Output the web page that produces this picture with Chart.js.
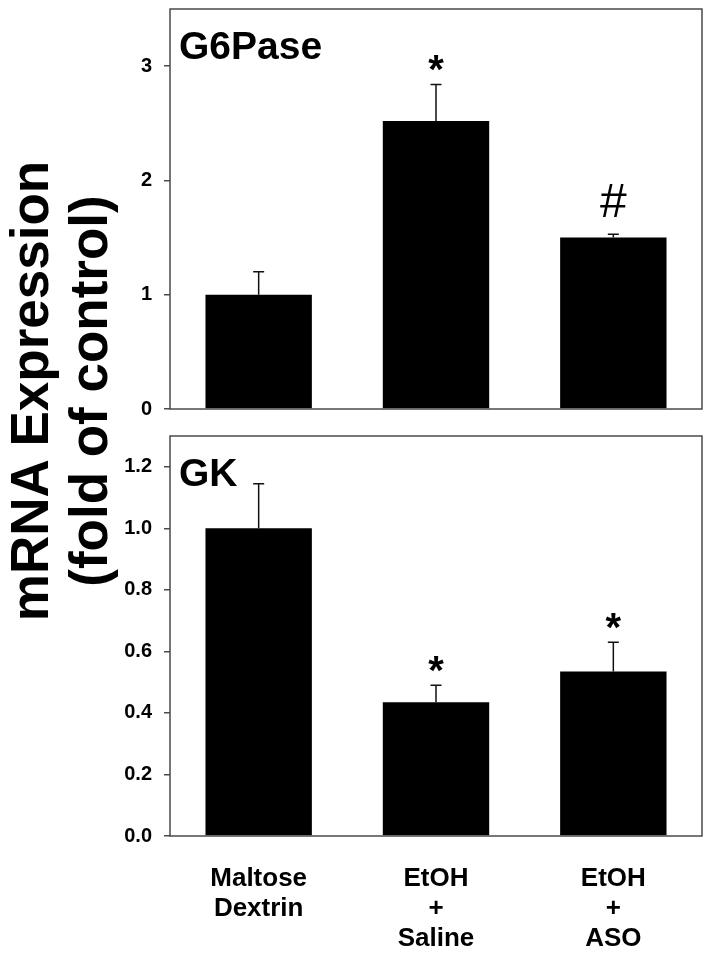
<!DOCTYPE html>
<html>
<head>
<meta charset="utf-8">
<script src="https://cdn.jsdelivr.net/npm/chart.js@4.4.0/dist/chart.umd.min.js"></script>
<style>
  body { margin: 0; background: #fff; }
  #wrap { position: relative; width: 714px; height: 954px; overflow: hidden; }
  #wrap canvas { position: absolute; left: 0; }
  #ytitle {
    position: absolute; width: 520px; height: 118px; left: -201px; top: 332px;
    transform: rotate(-90deg); transform-origin: center;
    font: bold 53px "Liberation Sans", Arial, sans-serif; line-height: 59px;
    text-align: center; white-space: nowrap; color: #000;
  }
</style>
</head>
<body>
<div id="wrap">
  <!-- y tick padding forces a 24px top margin in chart.js, so canvases are shifted up -->
  <canvas id="chart-g6pase" width="714" height="448" style="top:-15px"></canvas>
  <canvas id="chart-gk" width="714" height="542" style="top:412px"></canvas>
  <div id="ytitle">mRNA Expression<br>(fold of control)</div>
</div>
<script>
const FONT = '"Liberation Sans", Arial, sans-serif';

// groups on the x axis (multi-line labels)
const groups = [['Maltose', 'Dextrin'], ['EtOH', '+', 'Saline'], ['EtOH', '+', 'ASO']];

// G6Pase panel
const g6paseMean = [1.0, 2.52, 1.50];
const g6paseSem = [0.20, 0.32, 0.03];
const g6paseMarks = ['', '*', '#'];
const g6paseTicks = [0, 1, 2, 3];

// GK panel
const gkMean = [1.0, 0.435, 0.535];
const gkSem = [0.145, 0.055, 0.095];
const gkMarks = ['', '*', '*'];
const gkTicks = [0, 0.2, 0.4, 0.6, 0.8, 1.0, 1.2];

const markStyle = {
  '*': { font: 'bold 40px ' + FONT, dy: -1 },
  '#': { font: '48px ' + FONT, dy: -17 }
};

// error whiskers, significance marks, frame and panel name
const panelPlugin = {
  id: 'panel',
  afterDatasetsDraw(chart, args, opts) {
    const { ctx, chartArea: a } = chart;
    const y = chart.scales.y;
    const meta = chart.getDatasetMeta(0);
    ctx.save();
    ctx.strokeStyle = '#111';
    ctx.lineWidth = 1.5;
    meta.data.forEach((bar, i) => {
      const top = y.getPixelForValue(opts.mean[i] + opts.sem[i]);
      ctx.beginPath();
      ctx.moveTo(bar.x, bar.y);
      ctx.lineTo(bar.x, top);
      ctx.moveTo(bar.x - 5.5, top);
      ctx.lineTo(bar.x + 5.5, top);
      ctx.stroke();
      const m = opts.marks[i];
      if (m) {
        const st = markStyle[m];
        ctx.fillStyle = '#000';
        ctx.font = st.font;
        ctx.textAlign = 'center';
        ctx.textBaseline = 'alphabetic';
        ctx.fillText(m, bar.x, top + st.dy);
      }
    });

    ctx.strokeStyle = '#4a4a4a';
    ctx.lineWidth = 1.5;
    ctx.strokeRect(a.left, a.top, a.right - a.left, a.bottom - a.top);

    ctx.fillStyle = '#000';
    ctx.font = 'bold 39px ' + FONT;
    ctx.textAlign = 'left';
    ctx.textBaseline = 'alphabetic';
    ctx.fillText(opts.name, a.left + 9, a.top + 50);
    ctx.restore();
  }
};

function makePanel(id, name, mean, sem, marks, ticks, max, decimals, showX, padding) {
  return new Chart(document.getElementById(id), {
    type: 'bar',
    data: {
      labels: groups,
      datasets: [{
        data: mean,
        backgroundColor: '#000',
        barPercentage: 0.6,
        categoryPercentage: 1
      }]
    },
    plugins: [panelPlugin],
    options: {
      responsive: false,
      animation: false,
      devicePixelRatio: 1,
      layout: { padding },
      plugins: {
        legend: { display: false },
        tooltip: { enabled: false },
        panel: { name, mean, sem, marks }
      },
      scales: {
        x: {
          display: showX,
          grid: { display: false },
          border: { display: false },
          ticks: {
            color: '#000',
            font: { family: FONT, size: 26, weight: 'bold', lineHeight: '30px' },
            padding: 20,
            maxRotation: 0,
            autoSkip: false
          },
          afterFit: s => { s.height = showX ? 118 : 0; }
        },
        y: {
          min: 0,
          max,
          grid: { drawOnChartArea: false, tickLength: 6, color: '#4a4a4a', lineWidth: 1.5 },
          border: { display: false },
          ticks: {
            color: '#000',
            font: { family: FONT, size: 20, weight: 'bold' },
            padding: 12,
            callback: v => Number(v).toFixed(decimals)
          },
          afterBuildTicks: s => { s.ticks = ticks.map(v => ({ value: v })); },
          afterFit: s => { s.width = 170; }
        }
      }
    }
  });
}

makePanel('chart-g6pase', 'G6Pase', g6paseMean, g6paseSem, g6paseMarks, g6paseTicks, 3.5, 0, false,
  { top: 24, right: 12, bottom: 24, left: 0 });
makePanel('chart-gk', 'GK', gkMean, gkSem, gkMarks, gkTicks, 1.3, 1, true,
  { top: 24, right: 12, bottom: 0, left: 0 });
</script>
</body>
</html>
